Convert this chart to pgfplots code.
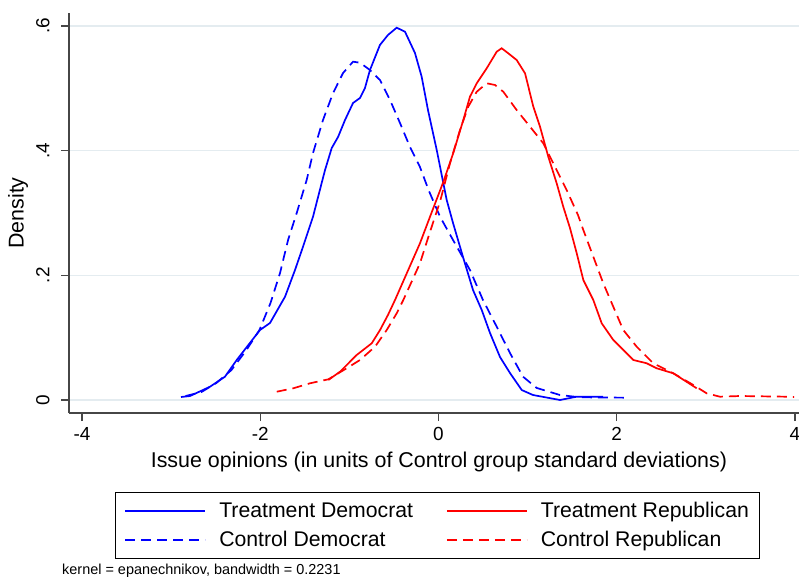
\documentclass[border=0pt]{standalone}
\usepackage{fontspec}
\setmainfont{Liberation Sans}
\usepackage{pgfplots}
\pgfplotsset{compat=1.18}
\definecolor{gridc}{RGB}{228,236,240}
\definecolor{axc}{RGB}{70,70,70}
\begin{document}
\begin{tikzpicture}
\useasboundingbox (0,0) rectangle (799bp,579bp);
\begin{axis}[
  at={(69bp,166bp)}, anchor=south west,
  scale only axis, width=730bp, height=400bp,
  xmin=-4.146, xmax=4.045, ymin=-0.02086, ymax=0.6209,
  axis x line*=bottom, axis y line*=left,
  axis line style={-, color=axc, line width=1.3bp},
  xtick={-4,-2,0,2,4}, xticklabels={-4,-2,0,2,4},
  ytick={0,0.2,0.4,0.6}, yticklabels={0,.2,.4,.6},
  tick align=outside, major tick length=8bp,
  tick style={color=axc, line width=1.1bp},
  ymajorgrids, grid style={color=gridc, line width=1.5bp},
  ticklabel style={font=\fontsize{19}{21}\selectfont},
  yticklabel style={rotate=90, anchor=south},
  yticklabel shift=8bp, xticklabel shift=3bp,
  xlabel={Issue opinions (in units of Control group standard deviations)},
  ylabel={Density},
  label style={font=\fontsize{21.5}{24}\selectfont},
  xlabel style={at={(axis description cs:0.5068,-0.1225)}, anchor=center},
  ylabel style={at={(axis description cs:-0.0699,0.5)}, anchor=center},
  clip=false,
  legend columns=2,
  legend style={at={(axis description cs:0.063,-0.1975)}, anchor=north west,
    draw=black, line width=0.9bp, font=\fontsize{21.3}{24}\selectfont,
    inner xsep=9bp, inner ysep=8bp, row sep=8bp,
    /tikz/every even column/.append style={column sep=31bp}},
  legend cell align=left,
  legend image code/.code={\draw[#1, line width=1.7bp] (0bp,0bp) -- (80bp,0bp); \path[draw=none] (0bp,0bp) -- (92bp,0bp);},
]
\addplot[blue, line width=1.7bp] coordinates {
(-2.889,0.0048) (-2.788,0.0064) (-2.564,0.0213) (-2.396,0.0374) (-2.264,0.0642)
(-2.116,0.0915) (-2.003,0.1123) (-1.891,0.1235) (-1.722,0.1657) (-1.610,0.2086)
(-1.520,0.2460) (-1.408,0.2941) (-1.311,0.3481) (-1.273,0.3690) (-1.198,0.4043)
(-1.127,0.4220) (-1.049,0.4492) (-0.959,0.4765) (-0.881,0.4845) (-0.825,0.5006)
(-0.769,0.5294) (-0.657,0.5696) (-0.567,0.5856) (-0.469,0.5973) (-0.376,0.5909)
(-0.264,0.5567) (-0.189,0.5187) (-0.118,0.4652) (-0.020,0.4011) (0.092,0.3209)
(0.163,0.2840) (0.275,0.2294) (0.387,0.1765) (0.485,0.1444) (0.578,0.1075)
(0.690,0.0690) (0.802,0.0433) (0.934,0.0160) (1.060,0.0080) (1.363,0.0)
(1.551,0.0053) (1.846,0.0053)
};
\addlegendentry{Treatment Democrat}
\addplot[red, line width=1.7bp] coordinates {
(-1.236,0.0321) (-1.105,0.0454) (-0.918,0.0722) (-0.749,0.0910) (-0.656,0.1123)
(-0.567,0.1364) (-0.488,0.1604) (-0.208,0.2514) (-0.095,0.2941) (0.054,0.3498)
(0.166,0.3963) (0.278,0.4492) (0.353,0.4866) (0.429,0.5081) (0.541,0.5322)
(0.653,0.5588) (0.709,0.5643) (0.783,0.5562) (0.877,0.5455) (0.971,0.5241)
(1.064,0.4706) (1.139,0.4385) (1.232,0.3903) (1.326,0.3477) (1.400,0.3101)
(1.475,0.2760) (1.551,0.2354) (1.625,0.1925) (1.737,0.1604) (1.831,0.1231)
(1.961,0.0963) (2.186,0.0642) (2.336,0.0589) (2.448,0.0509) (2.635,0.0428)
(2.897,0.0188)
};
\addlegendentry{Treatment Republican\hspace{-7bp}}
\addplot[blue, line width=1.7bp, dash pattern=on 10bp off 6bp] coordinates {
(-2.839,0.0064) (-2.660,0.0128) (-2.492,0.0273) (-2.323,0.0481) (-2.155,0.0802)
(-2.009,0.1123) (-1.885,0.1556) (-1.778,0.2038) (-1.688,0.2567) (-1.591,0.3000)
(-1.479,0.3530) (-1.408,0.3963) (-1.296,0.4492) (-1.183,0.4925) (-1.071,0.5246)
(-0.959,0.5428) (-0.881,0.5411) (-0.769,0.5294) (-0.657,0.5134) (-0.544,0.4813)
(-0.432,0.4444) (-0.320,0.4059) (-0.208,0.3738) (-0.107,0.3353) (0.017,0.2941)
(0.163,0.2567) (0.353,0.2086) (0.499,0.1604) (0.653,0.1176) (0.802,0.0754)
(0.948,0.0374) (1.102,0.0193) (1.363,0.0080) (1.588,0.0043) (2.127,0.0037)
};
\addlegendentry{Control Democrat}
\addplot[red, line width=1.7bp, dash pattern=on 10bp off 6bp] coordinates {
(-1.815,0.0133) (-1.629,0.0188) (-1.442,0.0268) (-1.236,0.0332) (-1.030,0.0509)
(-0.881,0.0642) (-0.712,0.0855) (-0.581,0.1123) (-0.469,0.1391) (-0.395,0.1604)
(-0.208,0.2193) (-0.095,0.2700) (0.017,0.3181) (0.129,0.3797) (0.241,0.4332)
(0.334,0.4706) (0.429,0.4946) (0.541,0.5081) (0.634,0.5054) (0.727,0.4946)
(0.877,0.4652) (1.027,0.4385) (1.176,0.4118) (1.288,0.3797) (1.438,0.3369)
(1.565,0.2968) (1.625,0.2727) (1.737,0.2299) (1.849,0.1872) (1.961,0.1497)
(2.073,0.1123) (2.224,0.0855) (2.410,0.0589) (2.635,0.0428) (2.859,0.0241)
(3.009,0.0107) (3.158,0.0053) (3.383,0.0064) (3.907,0.0053) (3.99,0.0048)
};
\addlegendentry{Control Republican}
\end{axis}
\node[anchor=base west, inner sep=0, font=\fontsize{14.5}{16}\selectfont] at (62bp,5bp) {kernel = epanechnikov, bandwidth = 0.2231};
\end{tikzpicture}
\end{document}
